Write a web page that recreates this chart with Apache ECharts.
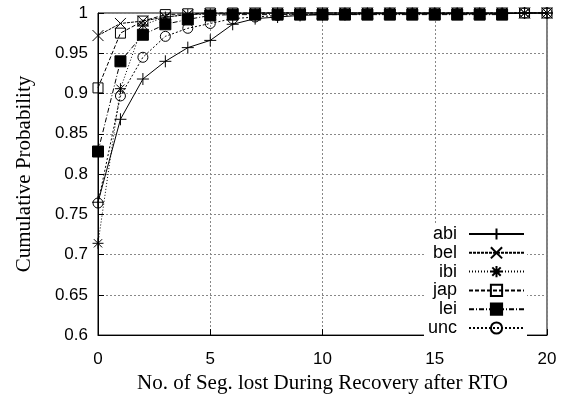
<!DOCTYPE html>
<html>
<head>
<meta charset="utf-8">
<script src="https://cdn.jsdelivr.net/npm/echarts@6/dist/echarts.min.js"></script>
<style>html,body{margin:0;padding:0;background:#fff}#c{width:562px;height:399px}</style>
</head>
<body>
<div id="c"></div>
<script>
// Segments lost during recovery after an RTO: 0..20
const segLost = Array.from({length: 21}, (_, i) => i);

const seriesNames = ['abi', 'bel', 'ibi', 'jap', 'lei', 'unc'];

const abi = [0.765, 0.868, 0.918, 0.940, 0.957, 0.966, 0.986, 0.993, 0.995, 0.997, 0.998, 0.998, 0.999, 0.999, 0.999, 0.999, 0.999, 0.999, 0.999, 1.000, 1.000];
const bel = [0.972, 0.987, 0.990, 0.995, 0.998, 0.999, 0.999, 1.000, 1.000, 1.000, 1.000, 1.000, 1.000, 1.000, 1.000, 1.000, 1.000, 1.000, 1.000, 1.000, 1.000];
const ibi = [0.714, 0.906, 0.985, 0.995, 0.998, 0.999, 0.999, 0.999, 1.000, 1.000, 1.000, 1.000, 1.000, 1.000, 1.000, 1.000, 1.000, 1.000, 1.000, 1.000, 1.000];
const jap = [0.907, 0.975, 0.990, 0.998, 0.999, 1.000, 1.000, 1.000, 1.000, 1.000, 1.000, 1.000, 1.000, 1.000, 1.000, 1.000, 1.000, 1.000, 1.000, 1.000, 1.000];
// lei has no samples beyond 18 lost segments
const lei = [0.828, 0.940, 0.973, 0.986, 0.992, 0.997, 0.998, 0.998, 0.998, 0.998, 0.998, 0.998, 0.998, 0.998, 0.998, 0.998, 0.998, 0.998, 0.998];
const unc = [0.764, 0.897, 0.945, 0.971, 0.981, 0.987, 0.993, 0.995, 0.997, 0.998, 0.998, 0.999, 0.999, 0.999, 0.999, 0.999, 0.999, 0.999, 0.999, 1.000, 1.000];

const seriesValues = [abi, bel, ibi, jap, lei, unc];

// marker glyphs
const PLUS = 'path://M0,-6L0,6M-6,0L6,0';
const CROSS = 'path://M-5,-5L5,5M-5,5L5,-5';
const STAR = 'path://M0,-6L0,6M-6,0L6,0M-4.5,-4.5L4.5,4.5M-4.5,4.5L4.5,-4.5';

const styles = [
  {symbol: PLUS,    size: 12, fill: 'none', dash: 'solid'},
  {symbol: CROSS,   size: 11, fill: 'none', dash: [3, 1]},
  {symbol: STAR,    size: 11, fill: 'none', dash: [1, 2]},
  {symbol: 'rect',  size: 10, fill: 'none', dash: [4, 2]},
  {symbol: 'rect',  size: 11, fill: '#000', dash: [5, 2, 1, 2]},
  {symbol: 'circle',size: 10, fill: 'none', dash: [2, 2]}
];

const chart = echarts.init(document.getElementById('c'), null, {renderer: 'canvas'});

// later series are drawn on top of earlier ones
const series = seriesNames.map((name, k) => ({
  name: name,
  type: 'line',
  data: seriesValues[k].map((v, i) => [segLost[i], v]),
  symbol: styles[k].symbol,
  symbolSize: styles[k].size,
  showAllSymbol: true,
  clip: false,
  color: '#000',
  lineStyle: {color: '#000', width: 1, type: styles[k].dash},
  itemStyle: {color: styles[k].fill, borderColor: '#000', borderWidth: 1},
  emphasis: {disabled: true},
  z: 2 + k
}));

chart.setOption({
  animation: false,
  backgroundColor: '#fff',
  grid: {left: 98, right: 15, top: 13, bottom: 62, show: true, borderColor: '#000', borderWidth: 1, backgroundColor: 'transparent'},
  xAxis: {
    type: 'value', min: 0, max: 20, interval: 5,
    name: 'No. of Seg. lost During Recovery after RTO',
    nameLocation: 'middle', nameGap: 34,
    nameTextStyle: {fontFamily: 'Liberation Serif', fontSize: 21, color: '#000'},
    axisLine: {lineStyle: {color: '#000'}},
    axisTick: {inside: true, length: 6, lineStyle: {color: '#000'}},
    axisLabel: {fontFamily: 'Liberation Sans', fontSize: 17, color: '#000', margin: 16},
    splitLine: {show: true, lineStyle: {color: '#888', type: [2, 2], width: 1}}
  },
  yAxis: {
    type: 'value', min: 0.6, max: 1, interval: 0.05,
    name: 'Cumulative Probability',
    nameLocation: 'middle', nameGap: 63,
    nameTextStyle: {fontFamily: 'Liberation Serif', fontSize: 21, color: '#000'},
    axisLine: {show: true, lineStyle: {color: '#000'}},
    axisTick: {show: true, inside: true, length: 6, lineStyle: {color: '#000'}},
    axisLabel: {fontFamily: 'Liberation Sans', fontSize: 17, color: '#000', margin: 10,
      formatter: v => String(parseFloat(v.toFixed(2)))},
    splitLine: {show: true, lineStyle: {color: '#888', type: [2, 2], width: 1}}
  },
  legend: {
    orient: 'vertical', right: 35, top: 223,
    align: 'right',
    itemWidth: 55, itemHeight: 14, itemGap: 0.8,
    backgroundColor: '#fff',
    padding: [2, 2, 2, 4],
    textStyle: {fontFamily: 'Liberation Sans', fontSize: 18, lineHeight: 14, color: '#000', padding: [0, 7, 0, 0]},
    data: seriesNames
  },
  series: series
});
</script>
</body>
</html>
